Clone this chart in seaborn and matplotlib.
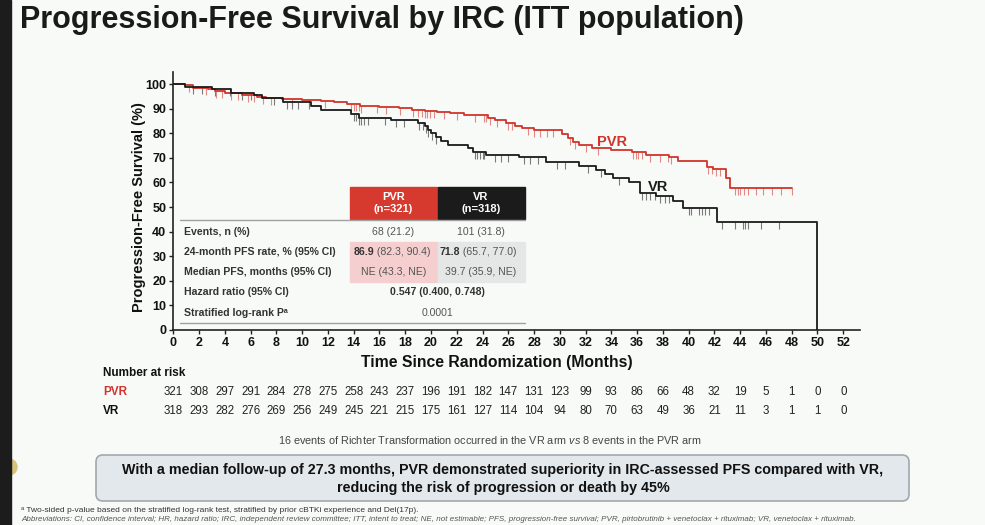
import numpy as np
import pandas as pd
import matplotlib
matplotlib.use("Agg")
import matplotlib.pyplot as plt
import matplotlib.transforms as mtransforms
from matplotlib.patches import Rectangle, FancyBboxPatch, Ellipse
from matplotlib.lines import Line2D
import seaborn as sns

# ---- data (Kaplan-Meier steps, %)
pvr_time = [0, 0.9, 1.5, 2.7, 3.2, 4.0, 5.3, 6.5, 7.2, 8.4, 10.0, 11.5, 12.5, 13.5, 14.5,
            16.0, 17.5, 18.5, 19.5, 20.5, 21.5, 22.6, 24.4, 25.0, 25.8, 26.5, 27.1, 28.0,
            30.2, 30.6, 31.0, 31.5, 32.5, 34.0, 35.6, 36.7, 38.5, 39.2, 41.4, 41.9, 42.9,
            43.2, 48.0]
pvr_surv = [100, 99.5, 98.5, 97.8, 97.0, 96.2, 95.5, 94.8, 94.2, 93.8, 93.4, 93.0, 92.6, 91.8,
            91.2, 90.8, 90.2, 89.6, 89.0, 88.6, 88.2, 87.3, 86.3, 85.2, 84.2, 83.0, 82.0, 81.2,
            79.5, 78.0, 76.5, 75.3, 74.2, 73.3, 72.2, 71.0, 70.2, 68.8, 66.2, 65.3, 62.0, 57.8,
            57.8]
vr_time = [0, 0.9, 3.0, 4.5, 6.3, 6.9, 8.5, 10.7, 11.5, 13.8, 14.4, 16.9, 19.0, 19.5, 19.8,
           20.0, 20.4, 20.8, 21.3, 22.9, 23.3, 24.3, 26.8, 28.9, 31.5, 32.8, 33.5, 34.1, 35.4,
           36.2, 37.5, 38.8, 39.6, 42.2, 50.0]
vr_surv = [100, 99.0, 97.9, 96.5, 95.6, 94.2, 92.9, 90.9, 89.5, 87.9, 86.2, 85.5, 84.2, 83.0,
           81.5, 80.0, 78.5, 77.0, 75.2, 73.8, 72.5, 71.3, 70.2, 68.3, 66.8, 65.0, 63.5, 62.0,
           60.0, 55.8, 54.5, 52.5, 49.5, 44.0, 0]

# censoring times (months)
pvr_cens = [1.2, 2.5, 3.3, 3.8, 4.5, 5.0, 5.8, 6.3, 7.0, 7.6, 9.2, 10.5, 11.8, 13.8, 14.0,
            14.2, 14.4, 14.6, 15.8, 16.5, 17.6, 18.6, 19.0, 19.3, 19.5, 19.7, 19.9, 20.2,
            21.0, 22.0, 23.4, 24.1, 24.3, 24.6, 25.1, 26.0, 26.3, 27.5, 28.0, 28.5, 29.0,
            29.5, 30.8, 31.2, 32.0, 33.0, 35.7, 35.9, 36.1, 36.4, 37.0, 37.8, 38.4, 38.6,
            41.5, 41.8, 42.1, 42.4, 43.6, 43.8, 44.0, 44.3, 44.6, 45.2, 45.8, 46.5, 47.2, 48.0]
vr_cens = [1.5, 2.2, 3.2, 4.4, 5.3, 6.0, 7.8, 8.8, 9.2, 9.7, 10.5, 14.0, 14.2, 14.4, 14.6,
           14.8, 15.1, 16.4, 17.3, 17.9, 19.1, 19.4, 19.6, 19.8, 20.1, 20.4, 23.4, 23.6, 23.8,
           24.0, 24.1, 25.0, 25.4, 26.0, 27.2, 27.7, 28.3, 29.8, 30.4, 32.2, 33.2, 34.6, 36.4,
           36.7, 37.0, 37.4, 37.8, 38.2, 38.5, 40.0, 40.2, 40.8, 41.0, 41.3, 41.6, 42.6, 43.6,
           44.2, 44.4, 44.6, 45.6, 47.0]

risk_months = list(range(0, 53, 2))
pvr_risk = [321, 308, 297, 291, 284, 278, 275, 258, 243, 237, 196, 191, 182, 147, 131, 123,
            99, 93, 86, 66, 48, 32, 19, 5, 1, 0, 0]
vr_risk = [318, 293, 282, 276, 269, 256, 249, 245, 221, 215, 175, 161, 127, 114, 104, 94,
           80, 70, 63, 49, 36, 21, 11, 3, 1, 1, 0]

table_rows = ["Events, n (%)", "24-month PFS rate, % (95% CI)", "Median PFS, months (95% CI)",
              "Hazard ratio (95% CI)", "Stratified log-rank P\u1d43"]
events = ["68 (21.2)", "101 (31.8)"]
pfs24_est = ["86.9", "71.8"]
pfs24_ci = [" (82.3, 90.4)", " (65.7, 77.0)"]
median_pfs = ["NE (43.3, NE)", "39.7 (35.9, NE)"]
hazard = "0.547 (0.400, 0.748)"
pvalue = "0.0001"

RED = "#d0342c"
DARK = "#1b1b1b"
BG = "#f8faf8"
W, H = 985, 525

sns.set_theme(style="white")
plt.rcParams["font.family"] = ["Liberation Sans", "DejaVu Sans"]
plt.rcParams["mathtext.fontset"] = "custom"
plt.rcParams["mathtext.it"] = "Liberation Sans:italic"
plt.rcParams["mathtext.rm"] = "Liberation Sans"

fig = plt.figure(figsize=(W / 100, H / 100), dpi=100, facecolor=BG)


def fx(x):
    return x / W


def fy(y):
    return 1 - y / H


def ftext(x, y, s, **kw):
    fig.text(fx(x), fy(y), s, **kw)


ax = fig.add_axes([fx(173.3), fy(330), (860 - 173.3) / W, (330 - 72) / H])
ax.set_facecolor(BG)

df = pd.concat([
    pd.DataFrame({"arm": "PVR", "month": pvr_time, "surv": pvr_surv}),
    pd.DataFrame({"arm": "VR", "month": vr_time, "surv": vr_surv}),
])
sns.lineplot(data=df, x="month", y="surv", hue="arm", palette={"PVR": RED, "VR": DARK},
             drawstyle="steps-post", estimator=None, sort=False, linewidth=1.3,
             legend=False, ax=ax, zorder=3)

# censor ticks
for t, s, c, col in [(pvr_time, pvr_surv, pvr_cens, "#e08a86"), (vr_time, vr_surv, vr_cens, "#7a7a7a")]:
    idx = np.searchsorted(t, c, side="right") - 1
    ax.plot(c, np.asarray(s)[idx], linestyle="none", marker=3, markersize=5,
            markeredgewidth=0.8, color=col, zorder=2)

ax.set_xlim(0, 53.3)
ax.set_ylim(0, 104.9)
ax.set_xticks(range(0, 53, 2))
ax.set_yticks(range(0, 101, 10))
for lab in ax.get_xticklabels() + ax.get_yticklabels():
    lab.set_fontweight("bold")
ax.tick_params(axis="both", direction="out", length=3, width=1, labelsize=9, color="#222",
               labelcolor="#111", pad=2, left=True, bottom=True)
for side in ["top", "right"]:
    ax.spines[side].set_visible(False)
for side in ["left", "bottom"]:
    ax.spines[side].set_color("#222")
    ax.spines[side].set_linewidth(1.2)
ax.set_xlabel("Time Since Randomization (Months)", fontsize=11.3, fontweight="bold", color="#111")
ax.set_ylabel("Progression-Free Survival (%)", fontsize=10.5, fontweight="bold", color="#111")
ax.xaxis.set_label_coords(0.471, -0.095)
ax.yaxis.set_label_coords(-0.040, 0.477)

ax.text(32.9, 76.3, "PVR", color=RED, fontsize=10.5, fontweight="bold", ha="left", va="center")
ax.text(36.8, 58.0, "VR", color=DARK, fontsize=10.5, fontweight="bold", ha="left", va="center")

# ---- inset table
lab_font = dict(fontsize=7.6, color="#333", fontweight="bold")
val_font = dict(fontsize=7.6, color="#555")
fig.add_artist(Rectangle((fx(350), fy(219)), (437 - 350) / W, (219 - 187) / H,
                         transform=fig.transFigure, color="#d63a2f", zorder=4))
fig.add_artist(Rectangle((fx(437.5), fy(219)), (525 - 437.5) / W, (219 - 187) / H,
                         transform=fig.transFigure, color=DARK, zorder=4))
fig.add_artist(Rectangle((fx(350), fy(282)), (437 - 350) / W, (282 - 242) / H,
                         transform=fig.transFigure, color="#f5cfcf", zorder=1))
fig.add_artist(Rectangle((fx(437.5), fy(282)), (525 - 437.5) / W, (282 - 242) / H,
                         transform=fig.transFigure, color="#e5e6e6", zorder=1))
for yy in (220, 323):
    fig.add_artist(Line2D([fx(180), fx(525)], [fy(yy), fy(yy)], transform=fig.transFigure,
                          color="#a0a0a0", linewidth=1, zorder=4))
ftext(393.5, 203, "PVR\n(n=321)", ha="center", va="center", color="white", fontsize=8,
      fontweight="bold", linespacing=1.25, zorder=5)
ftext(481, 203, "VR\n(n=318)", ha="center", va="center", color="white", fontsize=8,
      fontweight="bold", linespacing=1.25, zorder=5)
row_y = [232, 252, 272, 292, 313]
for lab, yy in zip(table_rows, row_y):
    ftext(184, yy, lab, ha="left", va="center", family=["Liberation Sans", "DejaVu Sans"],
          zorder=5, **lab_font)
ftext(393.5, row_y[0], events[0], ha="center", va="center", zorder=5, **val_font)
ftext(481, row_y[0], events[1], ha="center", va="center", zorder=5, **val_font)
for cx, est, ci in [(374, pfs24_est[0], pfs24_ci[0]), (460, pfs24_est[1], pfs24_ci[1])]:
    ftext(cx, row_y[1], est, ha="right", va="center", zorder=5, **lab_font)
    ftext(cx, row_y[1], ci, ha="left", va="center", zorder=5, **val_font)
ftext(393.5, row_y[2], median_pfs[0], ha="center", va="center", zorder=5, **val_font)
ftext(481, row_y[2], median_pfs[1], ha="center", va="center", zorder=5, **val_font)
ftext(437, row_y[3], hazard, ha="center", va="center", zorder=5, **lab_font)
ftext(437, row_y[4], pvalue, ha="center", va="center", zorder=5, **val_font)

# ---- number at risk
blend = mtransforms.blended_transform_factory(ax.transData, fig.transFigure)
ftext(103, 373, "Number at risk", ha="left", va="center", fontsize=8.5, fontweight="bold", color="#111")
ftext(103, 392, "PVR", ha="left", va="center", fontsize=8.5, fontweight="bold", color=RED)
ftext(103, 411, "VR", ha="left", va="center", fontsize=8.5, fontweight="bold", color="#111")
for m, a, b in zip(risk_months, pvr_risk, vr_risk):
    ax.text(m, fy(392), str(a), transform=blend, ha="center", va="center", fontsize=8.3,
            color="#222", clip_on=False)
    ax.text(m, fy(411), str(b), transform=blend, ha="center", va="center", fontsize=8.3,
            color="#222", clip_on=False)

ftext(490, 440, r"16 events of Richter Transformation occurred in the VR arm $\it{vs}$ 8 events in the PVR arm",
      ha="center", va="center", fontsize=7.8, color="#444")

# ---- conclusion box
fig.add_artist(FancyBboxPatch((fx(96), fy(501)), (909 - 96) / W, (501 - 455) / H,
                              boxstyle="round,pad=0,rounding_size=0.007", mutation_aspect=W / H,
                              transform=fig.transFigure, facecolor="#e3e8ec", edgecolor="#a2a8ad",
                              linewidth=1.2))
ftext(503, 470, "With a median follow-up of 27.3 months, PVR demonstrated superiority in IRC-assessed PFS compared with VR,",
      ha="center", va="center", fontsize=10.3, fontweight="bold", color="#111")
ftext(503, 488, "reducing the risk of progression or death by 45%",
      ha="center", va="center", fontsize=10.3, fontweight="bold", color="#111")

# ---- footnotes
ftext(21, 510, "\u1d43 Two-sided p-value based on the stratified log-rank test, stratified by prior cBTKi experience and Del(17p).",
      ha="left", va="center", fontsize=6, color="#333")
ftext(21, 519.5, "Abbreviations: CI, confidence interval; HR, hazard ratio; IRC, independent review committee; ITT, intent to treat; "
      "NE, not estimable; PFS, progression-free survival; PVR, pirtobrutinib + venetoclax + rituximab; VR, venetoclax + rituximab.",
      ha="left", va="center", fontsize=5.8, style="italic", color="#555")

# ---- title and slide edge
ftext(20, 28, "Progression-Free Survival by IRC (ITT population)", ha="left", va="baseline",
      fontsize=22, fontweight="bold", color="#1a1a1a")
fig.add_artist(Ellipse((fx(9), fy(467)), 16 / W, 16 / H, transform=fig.transFigure,
                       color="#d9c27a", zorder=8))
fig.add_artist(Rectangle((0, 0), 11 / W, 1, transform=fig.transFigure, color="#1c1c1c", zorder=9))

fig.savefig("out.png", dpi=100, facecolor=BG)
